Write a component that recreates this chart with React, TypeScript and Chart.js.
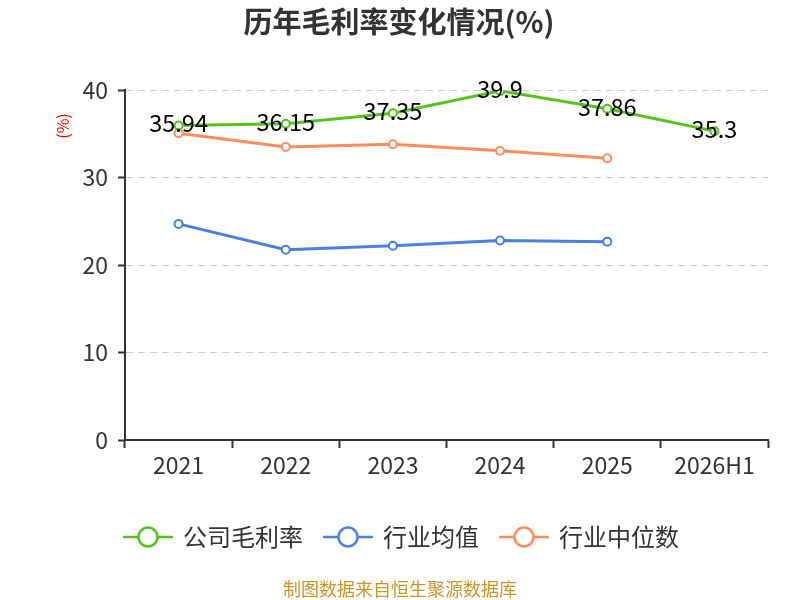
import { useEffect, useRef } from 'react';
import { Chart, registerables } from 'chart.js';

Chart.register(...registerables);

const years = ['2021', '2022', '2023', '2024', '2025', '2026H1'];
const companyMargin = [35.94, 36.15, 37.35, 39.9, 37.86, 35.3];
const industryAvg = [24.7, 21.75, 22.2, 22.8, 22.67, null];
const industryMedian = [35.05, 33.5, 33.8, 33.06, 32.2, null];
const yTicks = [0, 10, 20, 30, 40];

const seriesNames = ['公司毛利率', '行业均值', '行业中位数'];
const seriesColors = ['#52C41A', '#4A7FE3', '#FF8C5A'];

const FONT = '"Noto Sans CJK SC", "Noto Sans", sans-serif';

const decorPlugin = {
  id: 'decor',
  afterDatasetsDraw(chart: any) {
    const { ctx } = chart;
    const meta = chart.getDatasetMeta(0);

    // data labels on company line
    ctx.save();
    ctx.font = `23.5px ${FONT}`;
    ctx.fillStyle = '#000';
    ctx.textAlign = 'center';
    ctx.textBaseline = 'middle';
    meta.data.forEach((pt: any, i: number) => {
      ctx.fillText(String(companyMargin[i]), pt.x, pt.y - 2);
    });
    ctx.restore();
  },
  afterDraw(chart: any) {
    const { ctx } = chart;
    ctx.save();

    // title
    ctx.font = `bold 29px ${FONT}`;
    ctx.fillStyle = '#333';
    ctx.textAlign = 'center';
    ctx.textBaseline = 'middle';
    ctx.fillText('历年毛利率变化情况(%)', 399, 22);

    // y unit
    ctx.save();
    ctx.translate(63, 126);
    ctx.rotate(-Math.PI / 2);
    ctx.font = `16px ${FONT}`;
    ctx.fillStyle = '#ff0000';
    ctx.fillText('(%)', 0, 0);
    ctx.restore();

    // legend
    ctx.font = `24px ${FONT}`;
    ctx.textAlign = 'left';
    const lineW = 50;
    const gapText = 10;
    const gapItem = 20;
    const widths = seriesNames.map((n) => ctx.measureText(n).width);
    const total =
      widths.reduce((a, w) => a + lineW + gapText + w, 0) + gapItem * (seriesNames.length - 1);
    let x = 401 - total / 2;
    const y = 537;
    seriesNames.forEach((name, i) => {
      ctx.strokeStyle = seriesColors[i];
      ctx.lineWidth = 2.5;
      ctx.beginPath();
      ctx.moveTo(x, y);
      ctx.lineTo(x + lineW, y);
      ctx.stroke();
      ctx.beginPath();
      ctx.arc(x + lineW / 2, y, 9.5, 0, Math.PI * 2);
      ctx.fillStyle = '#fff';
      ctx.fill();
      ctx.stroke();
      ctx.fillStyle = '#333';
      ctx.fillText(name, x + lineW + gapText, y);
      x += lineW + gapText + widths[i] + gapItem;
    });

    // footer
    ctx.font = `18px ${FONT}`;
    ctx.fillStyle = '#C9962B';
    ctx.textAlign = 'center';
    ctx.fillText('制图数据来自恒生聚源数据库', 400, 589);

    ctx.restore();
  },
};

export default function App() {
  const canvasRef = useRef<HTMLCanvasElement>(null);

  useEffect(() => {
    const canvas = canvasRef.current;
    if (!canvas) return;

    const makeSet = (label: string, data: (number | null)[], color: string) => ({
      label,
      data,
      borderColor: color,
      backgroundColor: '#fff',
      borderWidth: 3,
      pointRadius: 4,
      pointBorderWidth: 2,
      pointBackgroundColor: '#fff',
      pointBorderColor: color,
      tension: 0,
      spanGaps: false,
    });

    const chart = new Chart(canvas, {
      type: 'line',
      data: {
        labels: years,
        datasets: [
          makeSet(seriesNames[0], companyMargin, seriesColors[0]),
          makeSet(seriesNames[1], industryAvg, seriesColors[1]),
          makeSet(seriesNames[2], industryMedian, seriesColors[2]),
        ],
      },
      options: {
        animation: false,
        responsive: false,
        devicePixelRatio: 1,
        layout: { padding: { top: 90, right: 32, bottom: 120, left: 0 } },
        plugins: {
          legend: { display: false },
          title: { display: false },
          tooltip: { enabled: false },
        },
        scales: {
          x: {
            type: 'category',
            offset: true,
            afterFit: (s: any) => {
              s.height = 40;
            },
            grid: {
              offset: true,
              drawOnChartArea: false,
              drawTicks: true,
              tickLength: 8,
              tickColor: '#333',
              tickWidth: 2,
            },
            border: { display: true, color: '#333', width: 2 },
            ticks: {
              color: '#333',
              font: { size: 23, family: FONT },
              padding: 3,
              maxRotation: 0,
            },
          },
          y: {
            min: 0,
            max: 40,
            afterFit: (s: any) => {
              s.width = 125;
            },
            afterBuildTicks: (s: any) => {
              s.ticks = yTicks.map((v) => ({ value: v }));
            },
            grid: {
              color: '#ccc',
              lineWidth: 1,
              drawTicks: true,
              tickLength: 7,
              tickColor: '#333',
              tickWidth: 2,
              tickBorderDash: [],
            },
            border: { display: true, color: '#333', width: 2, dash: [7, 5] },
            ticks: {
              color: '#333',
              font: { size: 23, family: FONT },
              padding: 10,
            },
          },
        },
      },
      plugins: [decorPlugin],
    });

    return () => chart.destroy();
  }, []);

  return (
    <div style={{ position: 'fixed', left: 0, top: 0, width: 800, height: 600, background: '#fff' }}>
      <canvas ref={canvasRef} width={800} height={600} style={{ width: 800, height: 600 }} />
    </div>
  );
}
